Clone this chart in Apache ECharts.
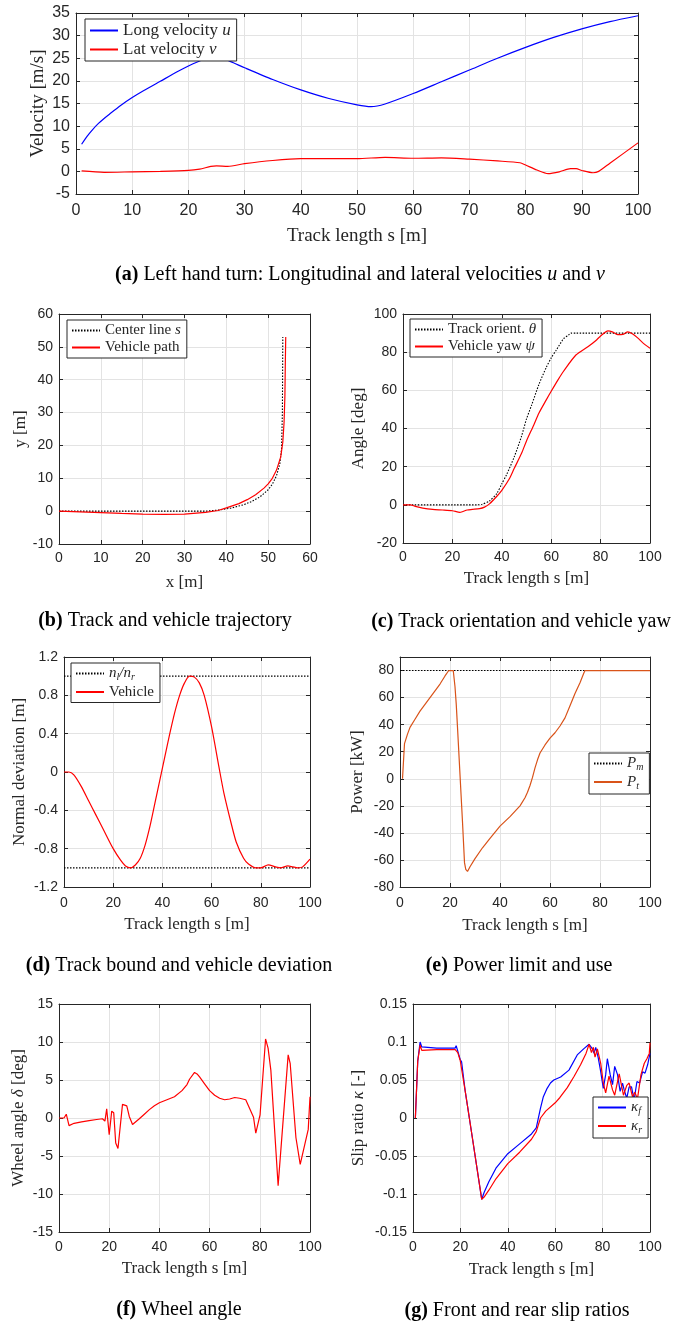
<!DOCTYPE html>
<html>
<head>
<meta charset="utf-8">
<script src="https://cdn.jsdelivr.net/npm/echarts@6/dist/echarts.min.js"></script>
<style>
  html, body { margin: 0; padding: 0; background: #fff; }
  #chart { width: 673px; height: 1321px; }
</style>
</head>
<body>
<div id="chart"></div>
<script>
// (a) velocities
const sU = [1, 2, 3, 4, 5, 6, 8, 10, 12, 15, 18, 20, 22, 24, 26, 28, 30, 35, 40, 45, 50, 52.5, 55, 60, 65, 70, 75, 80, 85, 90, 95, 100]
const uVals = [6, 7.8, 9.3, 10.6, 11.7, 12.7, 14.6, 16.3, 17.8, 19.9, 22.0, 23.3, 24.4, 25.4, 25.0, 24.0, 22.9, 20.3, 18.0, 16.1, 14.7, 14.3, 14.9, 17.2, 19.8, 22.4, 25.0, 27.4, 29.6, 31.5, 33.1, 34.4]
const sV = [1, 5, 10, 15, 20, 22, 24, 25, 27, 30, 35, 40, 45, 50, 55, 60, 65, 70, 75, 79, 80, 82, 84, 86, 88, 89, 90, 92, 93, 95, 100]
const vVals = [0.1, -0.2, -0.1, 0, 0.2, 0.5, 1.1, 1.2, 1.1, 1.7, 2.4, 2.8, 2.8, 2.8, 3.1, 2.9, 3.0, 2.7, 2.3, 1.9, 1.4, 0.3, -0.5, -0.1, 0.6, 0.6, 0.2, -0.3, 0, 1.8, 6.3]

// (b) trajectory
const centerX = [0, 10, 20, 30, 35, 38, 41, 44, 46, 48, 50, 51, 52, 52.8, 53.2, 53.4, 53.5]
const centerY = [0, 0, 0, 0, 0, 0.3, 0.9, 1.9, 2.9, 4.3, 6.5, 8.2, 10.8, 14.5, 19, 30, 53]
const pathX = [0, 5, 10, 15, 20, 25, 30, 35, 38, 40, 43, 45, 47, 49, 50, 51, 52, 53, 53.5, 53.8, 54, 54.1, 54.2]
const pathY = [0, -0.2, -0.45, -0.7, -0.9, -1.0, -0.9, -0.4, 0.2, 1.0, 2.3, 3.5, 5, 7, 8.3, 10, 12.5, 16.5, 21, 27, 35, 45, 53]

// (c) orientation and yaw
const sTheta = [0, 30, 32, 35, 38, 40, 42, 45, 48, 50, 52, 55, 58, 60, 62, 65, 67, 68, 70, 100]
const theta = [0, 0, 0.3, 2, 6, 11, 16, 25, 36, 45, 52, 63, 72, 77, 81, 87, 89, 90, 90, 90]
const sPsi = [0, 3, 5, 8, 12, 16, 20, 23, 24, 26, 28, 31, 33, 35, 38, 40, 43, 45, 48, 50, 53, 55, 58, 60, 63, 65, 70, 75, 78, 80, 83, 85, 87, 89, 91, 93, 95, 97, 100]
const psi = [0, 0, -0.8, -1.7, -2.4, -2.7, -3.1, -3.9, -3.6, -2.7, -2.4, -2.0, -1.2, 0.5, 4.5, 7.6, 13.5, 19, 27, 33.5, 42, 48, 55, 59.5, 66, 70, 78.5, 83, 86, 88.5, 91.2, 90.5, 89.2, 89.3, 90.6, 89.5, 87.5, 85, 82]

// (d) deviation
const sBound = [0, 100]
const boundUp = [1, 1]
const boundLo = [-1, -1]
const sDev = [0, 2, 4, 7, 10, 13, 16, 20, 23, 25, 27, 29, 31, 33, 35, 37, 39, 41, 43, 45, 47, 49, 51, 53, 55, 57, 60, 63, 65, 68, 70, 73, 75, 78, 80, 83, 86, 88, 91, 93, 95, 97, 100]
const dev = [0, 0, -0.03, -0.15, -0.3, -0.45, -0.6, -0.8, -0.92, -0.98, -1.0, -0.97, -0.9, -0.76, -0.56, -0.32, -0.08, 0.16, 0.4, 0.62, 0.8, 0.93, 1.0, 0.99, 0.93, 0.8, 0.47, 0.05, -0.22, -0.54, -0.73, -0.9, -0.96, -1.0, -1.0, -0.97, -0.99, -1.0, -0.98, -0.99, -1.0, -0.99, -0.91]

// (e) power
const sPm = [0, 100]
const pm = [80, 80]
const sPt = [1, 1.8, 3, 4, 6, 8, 10, 12, 14, 16, 18, 19.5, 21.3, 22, 22.5, 23, 24, 25, 25.8, 26.3, 27, 28, 30, 33, 36, 40, 44, 48, 50, 51, 52, 53, 54, 55, 56, 58, 60, 62, 64, 66, 68, 70, 72, 73.5, 74, 100]
const pt = [0, 26, 33, 38, 44, 50, 55, 60, 65, 70, 76, 80, 80, 68, 55, 38, 3, -32, -62, -67, -68.5, -65, -59, -51, -44, -35, -28, -20, -14, -10, -5, 1, 8, 14, 19, 25, 30, 34, 39, 45, 54, 63, 71, 78, 80, 80]

// (f) wheel angle
const sDelta = [0, 2, 2.9, 4, 6, 9, 12, 15, 17.3, 18.3, 19, 20, 21, 21.8, 22.6, 23.5, 24, 25.3, 26, 27, 28, 29.3, 30, 32, 34, 36, 38, 40, 43, 46, 49, 51, 52, 54, 55, 56, 58, 60, 62, 64, 66, 68, 70, 72, 74.4, 77.5, 78.4, 80.1, 82.3, 83.3, 84.4, 87.3, 91.3, 92.1, 94.4, 96.1, 99.3, 100]
const delta = [0, 0, 0.5, -1.0, -0.7, -0.5, -0.35, -0.2, -0.1, -0.4, 1.2, -2.2, 0.9, 0.7, -3.3, -4.0, -4.2, 1.8, 2.0, 1.6, 0.2, -0.85, -0.75, -0.1, 0.5, 1.1, 1.6, 2.0, 2.4, 2.8, 3.6, 4.4, 5.1, 6.0, 5.8, 5.4, 4.5, 3.6, 3.0, 2.6, 2.4, 2.5, 2.7, 2.6, 2.4, 0.1, -2.0, 0.4, 10.4, 9.2, 6.3, -8.9, 8.3, 7.2, -2.6, -6.1, -1.5, 2.8]

// (g) slip ratios
const sKf = [1, 2, 3, 3.7, 4.4, 10, 17.8, 18.2, 18.9, 19.9, 20.5, 22, 25, 29, 30, 32, 35, 40, 45, 50, 52, 53.8, 55, 56.6, 58, 59.4, 62.3, 65.8, 69.3, 72, 74.3, 75.7, 76.4, 77.1, 78.1, 79.2, 80.3, 81.3, 82, 83.2, 84.2, 85.1, 86.3, 87.4, 88.4, 89.1, 90.2, 91.2, 92.2, 93.3, 94.5, 95.6, 96.9, 97.9, 99, 99.7, 100]
const kf = [0, 0.075, 0.1, 0.0935, 0.092, 0.092, 0.092, 0.095, 0.088, 0.077, 0.074, 0.036, -0.025, -0.107, -0.098, -0.084, -0.066, -0.047, -0.034, -0.021, -0.013, 0.013, 0.028, 0.039, 0.046, 0.05, 0.054, 0.063, 0.083, 0.091, 0.097, 0.091, 0.085, 0.093, 0.080, 0.061, 0.039, 0.057, 0.078, 0.057, 0.044, 0.068, 0.057, 0.035, 0.046, 0.037, 0.026, 0.041, 0.041, 0.024, 0.048, 0.046, 0.061, 0.059, 0.07, 0.072, 0.085]
const sKr = [1, 2, 3, 3.7, 4.4, 10, 17.8, 18.2, 18.9, 19.9, 20.5, 22, 25, 29, 30, 32, 35, 40, 45, 50, 52, 53.8, 56, 60, 62, 65.1, 68, 70.7, 73, 74.3, 75.3, 76.1, 76.8, 77.8, 79.2, 80.3, 81.3, 82.7, 84.2, 85.1, 87, 88.8, 90.2, 91.2, 92.6, 93.6, 94.7, 96.2, 97.6, 98.7, 99.7, 100]
const kr = [0, 0.075, 0.096, 0.089, 0.09, 0.09, 0.09, 0.092, 0.086, 0.076, 0.074, 0.036, -0.025, -0.107, -0.104, -0.095, -0.08, -0.06, -0.045, -0.028, -0.018, 0.0, 0.009, 0.02, 0.027, 0.04, 0.055, 0.07, 0.085, 0.097, 0.086, 0.093, 0.080, 0.091, 0.072, 0.046, 0.033, 0.055, 0.037, 0.030, 0.058, 0.030, 0.043, 0.046, 0.028, 0.034, 0.025, 0.057, 0.072, 0.078, 0.085, 0.099]

const SERIF = 'Liberation Serif'
const SANS = 'Liberation Sans'
const INK = '#262626'

const pairs = (xs, ys) => xs.map((x, i) => [x, ys[i]])

const grids = [
  { left: 76, top: 13, width: 562, height: 181 },
  { left: 59, top: 314, width: 251, height: 230 },
  { left: 403, top: 314, width: 247, height: 229 },
  { left: 64, top: 657, width: 246, height: 230 },
  { left: 400, top: 657, width: 250, height: 230 },
  { left: 59, top: 1004, width: 251, height: 228 },
  { left: 413, top: 1004, width: 237, height: 228 }
]

const mathRich = (fs) => ({
  i: { fontFamily: SERIF, fontStyle: 'italic', fontSize: fs, color: INK },
  sub: { fontFamily: SERIF, fontStyle: 'italic', fontSize: Math.round(fs * 0.68), color: INK, padding: [8, 0, 0, 0] }
})

const xAxes = []
const yAxes = []

// one panel = bottom/left axes with labels + mirrored top/right axes for the box ticks
function addAxes(gi, xr, yr, xName, yName, p) {
  const tick = { show: true, inside: true, length: 4, lineStyle: { color: INK } }
  const line = { show: true, onZero: false, lineStyle: { color: INK, width: 1 } }
  const split = { show: true, lineStyle: { color: '#e3e3e3', width: 1 } }
  xAxes.push({
    type: 'value', gridIndex: gi, min: xr[0], max: xr[1], interval: xr[2],
    axisLine: line, axisTick: tick, splitLine: split,
    axisLabel: { color: INK, fontFamily: SANS, fontSize: p.tfs, margin: p.xm },
    name: xName, nameLocation: 'middle', nameGap: p.xg,
    nameTextStyle: { color: INK, fontFamily: SERIF, fontSize: p.nfs, rich: mathRich(p.nfs) }
  })
  xAxes.push({
    type: 'value', gridIndex: gi, position: 'top', min: xr[0], max: xr[1], interval: xr[2],
    axisLine: line, axisTick: tick, splitLine: { show: false }, axisLabel: { show: false }
  })
  const yAx = {
    type: 'value', gridIndex: gi, min: yr[0], max: yr[1], interval: yr[2],
    axisLine: line, axisTick: tick, splitLine: split,
    axisLabel: { color: INK, fontFamily: SANS, fontSize: p.tfs, margin: 6, showMaxLabel: yr[3] !== false },
    name: yName, nameLocation: 'middle', nameGap: p.yg,
    nameTextStyle: { color: INK, fontFamily: SERIF, fontSize: p.nfs, rich: mathRich(p.nfs) }
  }
  if (p.free) yAx.nameMoveOverlap = false
  yAxes.push(yAx)
  yAxes.push({
    type: 'value', gridIndex: gi, position: 'right', min: yr[0], max: yr[1], interval: yr[2],
    axisLine: line, axisTick: tick, splitLine: { show: false }, axisLabel: { show: false }
  })
}

addAxes(0, [0, 100, 10], [-5, 35, 5], 'Track length s [m]', 'Velocity [m/s]', { tfs: 16, nfs: 19, xm: 9, xg: 33, yg: 28, free: true })
addAxes(1, [0, 60, 10], [-10, 60, 10], 'x [m]', 'y [m]', { tfs: 14, nfs: 17, xm: 7, xg: 30, yg: 26 })
addAxes(2, [0, 100, 20], [-20, 100, 20], 'Track length s [m]', 'Angle [deg]', { tfs: 14, nfs: 17, xm: 7, xg: 27, yg: 36 })
addAxes(3, [0, 100, 20], [-1.2, 1.2, 0.4], 'Track length s [m]', 'Normal deviation [m]', { tfs: 14, nfs: 17, xm: 9, xg: 29, yg: 36 })
addAxes(4, [0, 100, 20], [-80, 90, 20, false], 'Track length s [m]', 'Power [kW]', { tfs: 14, nfs: 17, xm: 9, xg: 30, yg: 34 })
addAxes(5, [0, 100, 20], [-15, 15, 5], 'Track length s [m]', 'Wheel angle {i|δ} [deg]', { tfs: 14, nfs: 17, xm: 8, xg: 28, yg: 32 })
addAxes(6, [0, 100, 20], [-0.15, 0.15, 0.05], 'Track length s [m]', 'Slip ratio {i|κ} [-]', { tfs: 14, nfs: 17, xm: 8, xg: 29, yg: 46 })

function line(id, gi, data, color, opts) {
  return Object.assign({
    id: id, name: id, type: 'line', xAxisIndex: gi * 2, yAxisIndex: gi * 2,
    data: data, showSymbol: false, symbol: 'none', silent: true,
    lineStyle: { color: color, width: 1.2 }, itemStyle: { color: color }
  }, opts || {})
}
const DOT = { type: [1.5, 1.5], width: 1.1, color: '#000' }

const series = [
  line('a_u', 0, pairs(sU, uVals), '#0000ff', { smooth: 0.25 }),
  line('a_v', 0, pairs(sV, vVals), '#ff0000', { smooth: 0.25 }),
  line('b_c', 1, pairs(centerX, centerY), '#000', { lineStyle: DOT }),
  line('b_p', 1, pairs(pathX, pathY), '#ff0000'),
  line('c_t', 2, pairs(sTheta, theta), '#000', { lineStyle: DOT, smooth: 0.25 }),
  line('c_p', 2, pairs(sPsi, psi), '#ff0000', { smooth: 0.25 }),
  line('d_b', 3, pairs(sBound, boundUp), '#000', { lineStyle: DOT }),
  line('d_b2', 3, pairs(sBound, boundLo), '#000', { lineStyle: DOT }),
  line('d_v', 3, pairs(sDev, dev), '#ff0000', { smooth: 0.25 }),
  line('e_m', 4, pairs(sPm, pm), '#000', { lineStyle: DOT }),
  line('e_t', 4, pairs(sPt, pt), '#d95319'),
  line('f_d', 5, pairs(sDelta, delta), '#ff0000'),
  line('g_f', 6, pairs(sKf, kf), '#0000ff'),
  line('g_r', 6, pairs(sKr, kr), '#ff0000')
]

const labels = {
  a_u: 'Long velocity {i|u}',
  a_v: 'Lat velocity {i|v}',
  b_c: 'Center line {i|s}',
  b_p: 'Vehicle path',
  c_t: 'Track orient. {i|θ}',
  c_p: 'Vehicle yaw {i|ψ}',
  d_b: '{i|n}{sub|l}{i|/n}{sub|r}',
  d_v: 'Vehicle',
  e_m: '{i|P}{sub|m}',
  e_t: '{i|P}{sub|t}',
  g_f: '{i|κ}{sub|f}',
  g_r: '{i|κ}{sub|r}'
}

function legend(names, left, top, fs) {
  return {
    data: names, left: left, top: top, orient: 'vertical',
    itemWidth: 28, itemHeight: 12, itemGap: 2,
    padding: [3, 6, 3, 4], backgroundColor: '#fff',
    borderColor: INK, borderWidth: 1, borderRadius: 0,
    selectedMode: false, z: 10,
    itemStyle: { opacity: 0 },
    formatter: (n) => labels[n],
    textStyle: { fontFamily: SERIF, fontSize: fs, color: INK, rich: mathRich(fs) }
  }
}

const legends = [
  legend(['a_u', 'a_v'], 85, 19, 17),
  legend(['b_c', 'b_p'], 67, 320, 15),
  legend(['c_t', 'c_p'], 410, 319, 15),
  legend(['d_b', 'd_v'], 71, 663, 15),
  legend(['e_m', 'e_t'], 589, 753, 15),
  legend(['g_f', 'g_r'], 593, 1097, 15)
]

function caption(text, cx, cy) {
  return {
    text: text, left: cx, top: cy - 12, textAlign: 'center',
    textStyle: {
      fontFamily: SERIF, fontSize: 20, fontWeight: 'normal', color: '#000',
      rich: {
        b: { fontFamily: SERIF, fontSize: 20, fontWeight: 'bold', color: '#000' },
        i: { fontFamily: SERIF, fontSize: 20, fontStyle: 'italic', color: '#000' }
      }
    }
  }
}

const titles = [
  caption('{b|(a)} Left hand turn: Longitudinal and lateral velocities {i|u} and {i|v}', 355, 272),
  caption('{b|(b)} Track and vehicle trajectory', 160, 618),
  caption('{b|(c)} Track orientation and vehicle yaw', 516, 619),
  caption('{b|(d)} Track bound and vehicle deviation', 174, 963),
  caption('{b|(e)} Power limit and use', 514, 963),
  caption('{b|(f)} Wheel angle', 174, 1307),
  caption('{b|(g)} Front and rear slip ratios', 512, 1308)
]

const chart = echarts.init(document.getElementById('chart'), null, { renderer: 'canvas' })
chart.setOption({
  animation: false,
  backgroundColor: '#fff',
  title: titles,
  legend: legends,
  grid: grids.map(g => Object.assign({ show: false, containLabel: false }, g)),
  xAxis: xAxes,
  yAxis: yAxes,
  series: series
})
</script>
</body>
</html>
